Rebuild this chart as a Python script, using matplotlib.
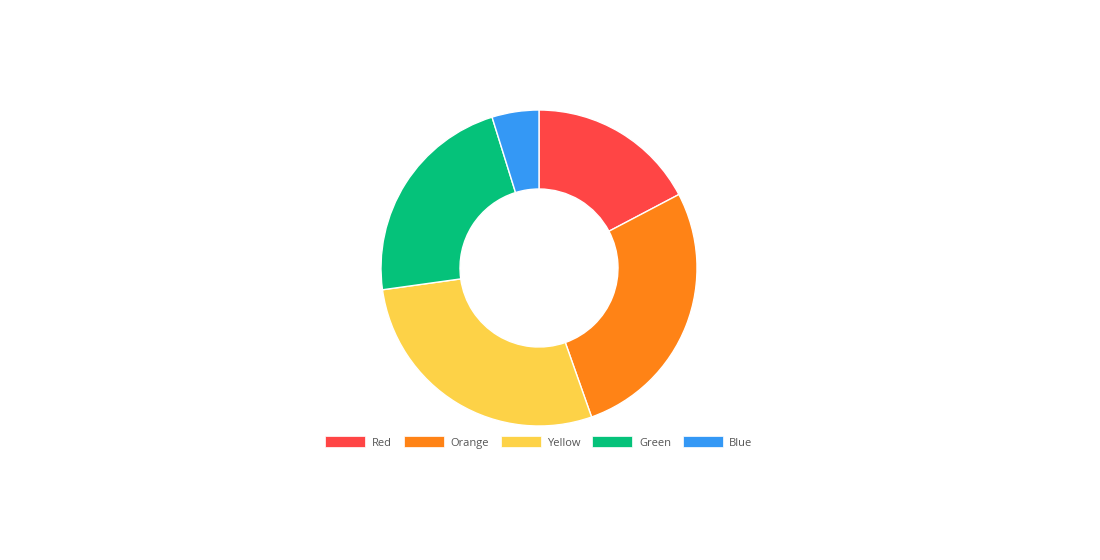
import matplotlib
matplotlib.use('Agg')
import matplotlib.pyplot as plt
from matplotlib.patches import Patch

labels = ['Red', 'Orange', 'Yellow', 'Green', 'Blue']
values = [17.3, 27.3, 28.2, 22.4, 4.8]
colors = ['#ff4545', '#ff8316', '#fdd247', '#05c27a', '#3498f5']

plt.rcParams['font.family'] = ['Open Sans', 'DejaVu Sans']
plt.rcParams['font.stretch'] = 'normal'

fig = plt.figure(figsize=(11, 5.6), dpi=100)
ax = fig.add_axes([0, 0, 1, 1])

ax.pie(values, colors=colors, startangle=90, counterclock=False,
       center=(539, 560 - 268), radius=158, frame=True,
       wedgeprops=dict(width=79, edgecolor='white', linewidth=1))
ax.set_xlim(0, 1100)
ax.set_ylim(0, 560)
ax.set_aspect('equal')
ax.axis('off')

handles = [Patch(facecolor=c, edgecolor='white', linewidth=0.5) for c in colors]
fig.legend(handles, labels, loc='center', bbox_to_anchor=(539 / 1100, 1 - 442.5 / 560),
           ncol=5, frameon=False, fontsize=8, handlelength=3.6, handleheight=1.1,
           handletextpad=0.6, columnspacing=1.05, labelcolor='#555555')

fig.savefig('out.png', dpi=100)
